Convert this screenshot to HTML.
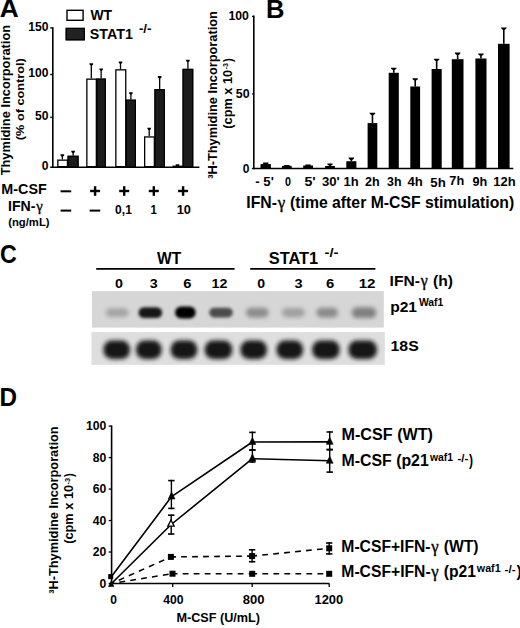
<!DOCTYPE html>
<html><head><meta charset="utf-8"><style>
html,body{margin:0;padding:0;background:#fff;}
svg{display:block;}
text{font-family:"Liberation Sans",sans-serif;font-weight:bold;}
.g{font-family:"Liberation Serif",serif;font-weight:normal;stroke:#000;stroke-width:0.35px;}
</style></head><body>
<svg width="520" height="628" viewBox="0 0 520 628">
<rect width="520" height="628" fill="#fff"/>
<text x="-0.35" y="17.4" font-size="26" textLength="18.94" lengthAdjust="spacingAndGlyphs" fill="#000">A</text>
<text x="266.09" y="17.9" font-size="26" textLength="18.47" lengthAdjust="spacingAndGlyphs" fill="#000">B</text>
<text x="-0.05" y="262.5" font-size="26" textLength="16.79" lengthAdjust="spacingAndGlyphs" fill="#000">C</text>
<text x="-0.43" y="405.6" font-size="26" textLength="17.55" lengthAdjust="spacingAndGlyphs" fill="#000">D</text>
<line x1="62.35" y1="159.5" x2="62.35" y2="155.3" stroke="#000" stroke-width="1.3" />
<polygon points="60.45,154.3 64.25,154.3 64.05,155.4 63.2,156.6 61.5,156.6 60.65,155.4" fill="#000"/>
<line x1="73.1" y1="155.7" x2="73.1" y2="151.8" stroke="#000" stroke-width="1.3" />
<polygon points="71.2,150.8 75,150.8 74.8,151.9 73.95,153.1 72.25,153.1 71.4,151.9" fill="#000"/>
<line x1="91.3" y1="78.5" x2="91.3" y2="64.3" stroke="#000" stroke-width="1.3" />
<polygon points="89.4,63.3 93.2,63.3 93,64.4 92.15,65.6 90.45,65.6 89.6,64.4" fill="#000"/>
<line x1="101.15" y1="78.5" x2="101.15" y2="69.5" stroke="#000" stroke-width="1.3" />
<polygon points="99.25,68.5 103.05,68.5 102.85,69.6 102,70.8 100.3,70.8 99.45,69.6" fill="#000"/>
<line x1="120.5" y1="69.2" x2="120.5" y2="62.5" stroke="#000" stroke-width="1.3" />
<polygon points="118.6,61.5 122.4,61.5 122.2,62.6 121.35,63.8 119.65,63.8 118.8,62.6" fill="#000"/>
<line x1="130.9" y1="99.6" x2="130.9" y2="93.2" stroke="#000" stroke-width="1.3" />
<polygon points="129,92.2 132.8,92.2 132.6,93.3 131.75,94.5 130.05,94.5 129.2,93.3" fill="#000"/>
<line x1="149.2" y1="136.3" x2="149.2" y2="128.8" stroke="#000" stroke-width="1.3" />
<polygon points="147.3,127.8 151.1,127.8 150.9,128.9 150.05,130.1 148.35,130.1 147.5,128.9" fill="#000"/>
<line x1="159.65" y1="89.1" x2="159.65" y2="77.1" stroke="#000" stroke-width="1.3" />
<polygon points="157.75,76.1 161.55,76.1 161.35,77.2 160.5,78.4 158.8,78.4 157.95,77.2" fill="#000"/>
<line x1="177.5" y1="165.6" x2="177.5" y2="165.3" stroke="#000" stroke-width="1.3" />
<polygon points="175.6,164.3 179.4,164.3 179.2,165.4 178.35,166.6 176.65,166.6 175.8,165.4" fill="#000"/>
<line x1="187.9" y1="68.8" x2="187.9" y2="60.8" stroke="#000" stroke-width="1.3" />
<polygon points="186,59.8 189.8,59.8 189.6,60.9 188.75,62.1 187.05,62.1 186.2,60.9" fill="#000"/>
<rect x="57.85" y="160.15" width="9.6" height="6.5" fill="#fff" stroke="#000" stroke-width="1.3"/>
<rect x="67.5" y="155.7" width="11.2" height="11.6" fill="#1c1c1c"/>
<rect x="68.1" y="156.3" width="10" height="11" fill="none" stroke="#000" stroke-width="1.2"/>
<rect x="86.85" y="79.15" width="9.5" height="87.5" fill="#fff" stroke="#000" stroke-width="1.3"/>
<rect x="96.4" y="78.5" width="9.5" height="88.8" fill="#1c1c1c"/>
<rect x="97" y="79.1" width="8.3" height="88.2" fill="none" stroke="#000" stroke-width="1.2"/>
<rect x="115.85" y="69.85" width="9.9" height="96.8" fill="#fff" stroke="#000" stroke-width="1.3"/>
<rect x="125.8" y="99.6" width="10.2" height="67.7" fill="#1c1c1c"/>
<rect x="126.4" y="100.2" width="9" height="67.1" fill="none" stroke="#000" stroke-width="1.2"/>
<rect x="144.65" y="136.95" width="9.7" height="29.7" fill="#fff" stroke="#000" stroke-width="1.3"/>
<rect x="154.4" y="89.1" width="10.5" height="78.2" fill="#1c1c1c"/>
<rect x="155" y="89.7" width="9.3" height="77.6" fill="none" stroke="#000" stroke-width="1.2"/>
<rect x="173.15" y="166.25" width="9.3" height="0.4" fill="#fff" stroke="#000" stroke-width="1.3"/>
<rect x="182.5" y="68.8" width="10.8" height="98.5" fill="#1c1c1c"/>
<rect x="183.1" y="69.4" width="9.6" height="97.9" fill="none" stroke="#000" stroke-width="1.2"/>
<line x1="52.8" y1="27.2" x2="52.8" y2="168" stroke="#000" stroke-width="1.6" />
<line x1="50.2" y1="27.9" x2="52.8" y2="27.9" stroke="#000" stroke-width="1.3" />
<line x1="50.2" y1="74.5" x2="52.8" y2="74.5" stroke="#000" stroke-width="1.3" />
<line x1="50.2" y1="117.3" x2="52.8" y2="117.3" stroke="#000" stroke-width="1.3" />
<line x1="50.2" y1="167.3" x2="199.4" y2="167.3" stroke="#000" stroke-width="1.6" />
<text x="28.15" y="30.7" font-size="11.9" textLength="20.25" lengthAdjust="spacingAndGlyphs" fill="#000">150</text>
<text x="28.15" y="76.7" font-size="11.9" textLength="20.25" lengthAdjust="spacingAndGlyphs" fill="#000">100</text>
<text x="34.9" y="120" font-size="11.9" textLength="13.5" lengthAdjust="spacingAndGlyphs" fill="#000">50</text>
<text x="41.65" y="169.8" font-size="11.9" textLength="6.75" lengthAdjust="spacingAndGlyphs" fill="#000">0</text>
<rect x="67" y="10.3" width="16.1" height="10" fill="#fff" stroke="#000" stroke-width="1.4"/>
<rect x="65.6" y="27.8" width="19.3" height="12.6" fill="#222"/>
<rect x="66.2" y="28.4" width="18.1" height="11.4" fill="none" stroke="#000" stroke-width="1.2"/>
<text x="90.39" y="19.6" font-size="15" textLength="21.66" lengthAdjust="spacingAndGlyphs" fill="#000">WT</text>
<text x="89.71" y="39.3" font-size="14.6" textLength="43.17" lengthAdjust="spacingAndGlyphs" fill="#000">STAT1</text>
<text x="138.91" y="33" font-size="12" textLength="12.47" lengthAdjust="spacingAndGlyphs" fill="#000" font-weight="normal">-/-</text>
<text transform="translate(10.1,175.34) rotate(-90)" x="0" y="0" font-size="12.6" textLength="150.44" lengthAdjust="spacingAndGlyphs">Thymidine Incorporation</text>
<text transform="translate(24.1,140.13) rotate(-90)" x="0" y="0" font-size="11.6" textLength="81.76" lengthAdjust="spacingAndGlyphs">(% of control)</text>
<text x="1.34" y="194.2" font-size="14.5" textLength="45.38" lengthAdjust="spacingAndGlyphs" fill="#000">M-CSF</text>
<text x="8.06" y="210.7" font-size="13.8" textLength="27.45" lengthAdjust="spacingAndGlyphs" fill="#000" xml:space="preserve">IFN-</text>
<text x="36.2" y="210.7" font-size="14.63" class="g">γ</text>
<text x="8.19" y="225.8" font-size="10.8" textLength="41.37" lengthAdjust="spacingAndGlyphs" fill="#000">(ng/mL)</text>
<rect x="60.6" y="190.3" width="10.6" height="2" fill="#000"/>
<rect x="90.1" y="189.8" width="10" height="2.4" fill="#000"/>
<rect x="93.9" y="186.2" width="2.4" height="9.6" fill="#000"/>
<rect x="119.2" y="189.8" width="10" height="2.4" fill="#000"/>
<rect x="123" y="186.2" width="2.4" height="9.6" fill="#000"/>
<rect x="148.8" y="189.8" width="10" height="2.4" fill="#000"/>
<rect x="152.6" y="186.2" width="2.4" height="9.6" fill="#000"/>
<rect x="178.1" y="189.8" width="10" height="2.4" fill="#000"/>
<rect x="181.9" y="186.2" width="2.4" height="9.6" fill="#000"/>
<rect x="60.6" y="209.6" width="10.6" height="2" fill="#000"/>
<rect x="89.6" y="209.6" width="10.6" height="2" fill="#000"/>
<text x="115.12" y="214.2" font-size="12.6" textLength="16.71" lengthAdjust="spacingAndGlyphs" fill="#000">0,1</text>
<text x="150.48" y="214.2" font-size="12.6" textLength="6.33" lengthAdjust="spacingAndGlyphs" fill="#000">1</text>
<text x="176.69" y="214.2" font-size="12.6" textLength="14.23" lengthAdjust="spacingAndGlyphs" fill="#000">10</text>
<line x1="253.8" y1="15.6" x2="253.8" y2="169.2" stroke="#000" stroke-width="1.6" />
<line x1="252" y1="16.3" x2="253.8" y2="16.3" stroke="#000" stroke-width="1.3" />
<line x1="252" y1="93.8" x2="253.8" y2="93.8" stroke="#000" stroke-width="1.3" />
<line x1="251.9" y1="168.5" x2="513.3" y2="168.5" stroke="#000" stroke-width="1.6" />
<text x="228.42" y="19.6" font-size="12.3" textLength="20.58" lengthAdjust="spacingAndGlyphs" fill="#000">100</text>
<text x="235.82" y="98.1" font-size="12.3" textLength="13.9" lengthAdjust="spacingAndGlyphs" fill="#000">50</text>
<text x="242.63" y="173.1" font-size="12.3" textLength="6.67" lengthAdjust="spacingAndGlyphs" fill="#000">0</text>
<line x1="265.7" y1="164.1" x2="265.7" y2="163.6" stroke="#000" stroke-width="1.6" />
<polygon points="262.9,162.6 268.5,162.6 268.3,163.7 266.7,164.9 264.7,164.9 263.1,163.7" fill="#000"/>
<rect x="260.5" y="164.1" width="10.4" height="4.4" fill="#000"/>
<line x1="286.85" y1="165.9" x2="286.85" y2="166" stroke="#000" stroke-width="1.6" />
<polygon points="284.05,165 289.65,165 289.45,166.1 287.85,167.3 285.85,167.3 284.25,166.1" fill="#000"/>
<rect x="282" y="165.9" width="9.7" height="2.6" fill="#000"/>
<line x1="308.1" y1="165.5" x2="308.1" y2="165.6" stroke="#000" stroke-width="1.6" />
<polygon points="305.3,164.6 310.9,164.6 310.7,165.7 309.1,166.9 307.1,166.9 305.5,165.7" fill="#000"/>
<rect x="303.2" y="165.5" width="9.8" height="3" fill="#000"/>
<line x1="330" y1="166" x2="330" y2="164.5" stroke="#000" stroke-width="1.6" />
<polygon points="327.2,163.5 332.8,163.5 332.6,164.6 331,165.8 329,165.8 327.4,164.6" fill="#000"/>
<rect x="325.1" y="166" width="9.8" height="2.5" fill="#000"/>
<line x1="351.35" y1="161.2" x2="351.35" y2="158.6" stroke="#000" stroke-width="1.6" />
<polygon points="348.55,157.6 354.15,157.6 353.95,158.7 352.35,159.9 350.35,159.9 348.75,158.7" fill="#000"/>
<rect x="346.3" y="161.2" width="10.1" height="7.3" fill="#000"/>
<line x1="372.45" y1="123.1" x2="372.45" y2="113.8" stroke="#000" stroke-width="1.6" />
<polygon points="369.65,112.8 375.25,112.8 375.05,113.9 373.45,115.1 371.45,115.1 369.85,113.9" fill="#000"/>
<rect x="367.6" y="123.1" width="9.7" height="45.4" fill="#000"/>
<line x1="393.75" y1="72.8" x2="393.75" y2="68.7" stroke="#000" stroke-width="1.6" />
<polygon points="390.95,67.7 396.55,67.7 396.35,68.8 394.75,70 392.75,70 391.15,68.8" fill="#000"/>
<rect x="388.7" y="72.8" width="10.1" height="95.7" fill="#000"/>
<line x1="415.2" y1="86.5" x2="415.2" y2="79.2" stroke="#000" stroke-width="1.6" />
<polygon points="412.4,78.2 418,78.2 417.8,79.3 416.2,80.5 414.2,80.5 412.6,79.3" fill="#000"/>
<rect x="410.3" y="86.5" width="9.8" height="82" fill="#000"/>
<line x1="436.65" y1="69" x2="436.65" y2="59.7" stroke="#000" stroke-width="1.6" />
<polygon points="433.85,58.7 439.45,58.7 439.25,59.8 437.65,61 435.65,61 434.05,59.8" fill="#000"/>
<rect x="431.6" y="69" width="10.1" height="99.5" fill="#000"/>
<line x1="457.65" y1="59.2" x2="457.65" y2="53.6" stroke="#000" stroke-width="1.6" />
<polygon points="454.85,52.6 460.45,52.6 460.25,53.7 458.65,54.9 456.65,54.9 455.05,53.7" fill="#000"/>
<rect x="451.8" y="59.2" width="11.7" height="109.3" fill="#000"/>
<line x1="480.95" y1="58.5" x2="480.95" y2="54.5" stroke="#000" stroke-width="1.6" />
<polygon points="478.15,53.5 483.75,53.5 483.55,54.6 481.95,55.8 479.95,55.8 478.35,54.6" fill="#000"/>
<rect x="475.4" y="58.5" width="11.1" height="110" fill="#000"/>
<line x1="503.8" y1="43.8" x2="503.8" y2="28.4" stroke="#000" stroke-width="1.6" />
<polygon points="501,27.4 506.6,27.4 506.4,28.5 504.8,29.7 502.8,29.7 501.2,28.5" fill="#000"/>
<rect x="498" y="43.8" width="11.6" height="124.7" fill="#000"/>
<text x="255.29" y="186.2" font-size="12" textLength="18.5" lengthAdjust="spacingAndGlyphs" fill="#000">- 5'</text>
<text x="284.88" y="186" font-size="12" textLength="5.96" lengthAdjust="spacingAndGlyphs" fill="#000">0</text>
<text x="304.46" y="186" font-size="12" textLength="11.27" lengthAdjust="spacingAndGlyphs" fill="#000">5'</text>
<text x="321.9" y="185.6" font-size="12" textLength="17.78" lengthAdjust="spacingAndGlyphs" fill="#000">30'</text>
<text x="343.48" y="185.6" font-size="12" textLength="15.12" lengthAdjust="spacingAndGlyphs" fill="#000">1h</text>
<text x="364.97" y="185.6" font-size="12" textLength="14.61" lengthAdjust="spacingAndGlyphs" fill="#000">2h</text>
<text x="387.12" y="185.6" font-size="12" textLength="14.45" lengthAdjust="spacingAndGlyphs" fill="#000">3h</text>
<text x="407.5" y="185.6" font-size="12" textLength="15.31" lengthAdjust="spacingAndGlyphs" fill="#000">4h</text>
<text x="430.39" y="186.7" font-size="12" textLength="15.43" lengthAdjust="spacingAndGlyphs" fill="#000">5h</text>
<text x="449.35" y="185.3" font-size="12" textLength="14.83" lengthAdjust="spacingAndGlyphs" fill="#000">7h</text>
<text x="472.46" y="185.5" font-size="12" textLength="14.72" lengthAdjust="spacingAndGlyphs" fill="#000">9h</text>
<text x="493.28" y="185.5" font-size="12" textLength="22.32" lengthAdjust="spacingAndGlyphs" fill="#000">12h</text>
<text x="246.35" y="208" font-size="15.9" textLength="30.62" lengthAdjust="spacingAndGlyphs" fill="#000" xml:space="preserve">IFN-</text>
<text x="277.63" y="208" font-size="16.85" class="g">γ</text>
<text x="285.73" y="208" font-size="15.9" textLength="228.45" lengthAdjust="spacingAndGlyphs" fill="#000" xml:space="preserve"> (time after M-CSF stimulation)</text>
<text transform="translate(217.2,178.87) rotate(-90)" x="0" y="0" font-size="12.6" textLength="167.77" lengthAdjust="spacingAndGlyphs">³H-Thymidine Incorporation</text>
<text transform="translate(231.9,128.63) rotate(-90)" x="0" y="0" font-size="12.4" textLength="58.76" lengthAdjust="spacingAndGlyphs">(cpm x 10</text>
<text transform="translate(228.2,69.37) rotate(-90)" x="0" y="0" font-size="8" textLength="6.23" lengthAdjust="spacingAndGlyphs">-3</text>
<text transform="translate(231.9,62.11) rotate(-90)" x="0" y="0" font-size="12.4" textLength="3.78" lengthAdjust="spacingAndGlyphs">)</text>
<text x="156.98" y="263.9" font-size="16.4" textLength="24.18" lengthAdjust="spacingAndGlyphs" fill="#000">WT</text>
<line x1="96.2" y1="268.9" x2="234.6" y2="268.9" stroke="#000" stroke-width="1.7" />
<text x="268.75" y="263.5" font-size="16" textLength="49.49" lengthAdjust="spacingAndGlyphs" fill="#000">STAT1</text>
<text x="324.44" y="257" font-size="13" textLength="14.02" lengthAdjust="spacingAndGlyphs" fill="#000" font-weight="normal">-/-</text>
<line x1="250.2" y1="268.9" x2="375.4" y2="268.9" stroke="#000" stroke-width="1.7" />
<text x="114.93" y="287.5" font-size="12.6" textLength="7.95" lengthAdjust="spacingAndGlyphs" fill="#000">0</text>
<text x="149.67" y="287.5" font-size="12.6" textLength="7.94" lengthAdjust="spacingAndGlyphs" fill="#000">3</text>
<text x="183.26" y="287.5" font-size="12.6" textLength="8.17" lengthAdjust="spacingAndGlyphs" fill="#000">6</text>
<text x="211.6" y="287.5" font-size="12.6" textLength="15.87" lengthAdjust="spacingAndGlyphs" fill="#000">12</text>
<text x="257.34" y="287.5" font-size="12.6" textLength="7.84" lengthAdjust="spacingAndGlyphs" fill="#000">0</text>
<text x="294.47" y="287.5" font-size="12.6" textLength="8.06" lengthAdjust="spacingAndGlyphs" fill="#000">3</text>
<text x="325.95" y="287.5" font-size="12.6" textLength="8.28" lengthAdjust="spacingAndGlyphs" fill="#000">6</text>
<text x="358.65" y="287.5" font-size="12.6" textLength="16.86" lengthAdjust="spacingAndGlyphs" fill="#000">12</text>
<text x="389.56" y="285.8" font-size="14.8" textLength="30.36" lengthAdjust="spacingAndGlyphs" fill="#000" xml:space="preserve">IFN-</text>
<text x="420.79" y="285.8" font-size="15.69" class="g">γ</text>
<text x="428.6" y="285.8" font-size="14.8" textLength="24.28" lengthAdjust="spacingAndGlyphs" fill="#000" xml:space="preserve"> (h)</text>
<text x="390.17" y="311.6" font-size="14.5" textLength="26.86" lengthAdjust="spacingAndGlyphs" fill="#000">p21</text>
<text x="418.89" y="306.4" font-size="10.9" textLength="24.5" lengthAdjust="spacingAndGlyphs" fill="#000">Waf1</text>
<text x="390.5" y="350.8" font-size="15.2" textLength="28.22" lengthAdjust="spacingAndGlyphs" fill="#000">18S</text>
<defs><filter id="bl" x="-50%" y="-50%" width="200%" height="200%"><feGaussianBlur stdDeviation="1.9"/></filter><filter id="bl2" x="-50%" y="-50%" width="200%" height="200%"><feGaussianBlur stdDeviation="1.5"/></filter><filter id="bl3"><feGaussianBlur stdDeviation="0.6"/></filter></defs>
<rect x="92" y="291.1" width="291.8" height="36.5" fill="#d6d6d6"/>
<rect x="91.5" y="332.1" width="293.3" height="32.7" fill="#dedede"/>
<rect x="105.9" y="308.2" width="22.6" height="8.8" rx="4.4" fill="#a4a4a4" filter="url(#bl)"/>
<rect x="138.5" y="307.2" width="23.6" height="10.8" rx="5.4" fill="#141414" filter="url(#bl2)"/>
<rect x="175.1" y="306.6" width="20.6" height="12" rx="6" fill="#000" filter="url(#bl2)"/>
<rect x="209.2" y="307.8" width="23.6" height="9.6" rx="4.8" fill="#4c4c4c" filter="url(#bl2)"/>
<rect x="246" y="307.8" width="22.6" height="9.6" rx="4.8" fill="#8c8c8c" filter="url(#bl)"/>
<rect x="282.1" y="308" width="22.6" height="9.2" rx="4.6" fill="#a0a0a0" filter="url(#bl)"/>
<rect x="316.4" y="307.8" width="21.6" height="9.6" rx="4.8" fill="#8a8a8a" filter="url(#bl)"/>
<rect x="351.7" y="307.2" width="24.6" height="10.8" rx="5.4" fill="#808080" filter="url(#bl)"/>
<g filter="url(#bl)">
<rect x="103.5" y="340.4" width="26.4" height="18.6" rx="8.5" fill="#141414"/>
<rect x="136.1" y="340.4" width="25.4" height="18.6" rx="8.5" fill="#141414"/>
<rect x="170.8" y="340.4" width="26.4" height="18.6" rx="8.5" fill="#141414"/>
<rect x="204.8" y="340.4" width="27.4" height="18.6" rx="8.5" fill="#141414"/>
<rect x="240.5" y="340.4" width="26.4" height="18.6" rx="8.5" fill="#141414"/>
<rect x="276.6" y="340.4" width="26.4" height="18.6" rx="8.5" fill="#141414"/>
<rect x="312.2" y="340.4" width="27.4" height="18.6" rx="8.5" fill="#141414"/>
<rect x="348.5" y="340.4" width="28.4" height="18.6" rx="8.5" fill="#141414"/>
</g>
<line x1="111.6" y1="425.4" x2="111.6" y2="584.2" stroke="#000" stroke-width="1.6" />
<line x1="108.7" y1="426.1" x2="111.6" y2="426.1" stroke="#000" stroke-width="1.3" />
<line x1="108.7" y1="457.58" x2="111.6" y2="457.58" stroke="#000" stroke-width="1.3" />
<line x1="108.7" y1="489.06" x2="111.6" y2="489.06" stroke="#000" stroke-width="1.3" />
<line x1="108.7" y1="520.54" x2="111.6" y2="520.54" stroke="#000" stroke-width="1.3" />
<line x1="108.7" y1="552.02" x2="111.6" y2="552.02" stroke="#000" stroke-width="1.3" />
<line x1="108.7" y1="583.5" x2="329.4" y2="583.5" stroke="#000" stroke-width="1.6" />
<line x1="172.7" y1="583.5" x2="172.7" y2="586.9" stroke="#000" stroke-width="1.3" />
<line x1="252.2" y1="583.5" x2="252.2" y2="586.9" stroke="#000" stroke-width="1.3" />
<line x1="329.2" y1="583.5" x2="329.2" y2="586.9" stroke="#000" stroke-width="1.3" />
<text x="85.95" y="430.3" font-size="12.2" textLength="20.36" lengthAdjust="spacingAndGlyphs" fill="#000">100</text>
<text x="92.73" y="461.78" font-size="12.2" textLength="13.57" lengthAdjust="spacingAndGlyphs" fill="#000">80</text>
<text x="92.73" y="493.26" font-size="12.2" textLength="13.57" lengthAdjust="spacingAndGlyphs" fill="#000">60</text>
<text x="92.73" y="524.74" font-size="12.2" textLength="13.57" lengthAdjust="spacingAndGlyphs" fill="#000">40</text>
<text x="92.73" y="556.22" font-size="12.2" textLength="13.57" lengthAdjust="spacingAndGlyphs" fill="#000">20</text>
<text x="99.52" y="587.7" font-size="12.2" textLength="6.79" lengthAdjust="spacingAndGlyphs" fill="#000">0</text>
<text x="110.13" y="604" font-size="12" textLength="6.67" lengthAdjust="spacingAndGlyphs" fill="#000">0</text>
<text x="163.32" y="604" font-size="12" textLength="20.28" lengthAdjust="spacingAndGlyphs" fill="#000">400</text>
<text x="242.89" y="604" font-size="12" textLength="21.75" lengthAdjust="spacingAndGlyphs" fill="#000">800</text>
<text x="314.49" y="604" font-size="12" textLength="28.74" lengthAdjust="spacingAndGlyphs" fill="#000">1200</text>
<text x="176.45" y="622" font-size="13.4" textLength="83.58" lengthAdjust="spacingAndGlyphs" fill="#000">M-CSF (U/mL)</text>
<text transform="translate(57.8,593.67) rotate(-90)" x="0" y="0" font-size="12.6" textLength="167.27" lengthAdjust="spacingAndGlyphs">³H-Thymidine Incorporation</text>
<text transform="translate(72.5,543.84) rotate(-90)" x="0" y="0" font-size="12.4" textLength="58.96" lengthAdjust="spacingAndGlyphs">(cpm x 10</text>
<text transform="translate(70,484.39) rotate(-90)" x="0" y="0" font-size="8" textLength="6.55" lengthAdjust="spacingAndGlyphs">-3</text>
<text transform="translate(72.5,477.11) rotate(-90)" x="0" y="0" font-size="12.4" textLength="3.78" lengthAdjust="spacingAndGlyphs">)</text>
<polyline points="111.5,576.6 171.6,496.6 252.4,442 329.7,441.9" fill="none" stroke="#000" stroke-width="1.6" stroke-linejoin="round"/>
<polyline points="111.5,583.5 171.2,524.5 252.4,458.7 329.7,460.8" fill="none" stroke="#000" stroke-width="1.6" stroke-linejoin="round"/>
<line x1="111.5" y1="583.5" x2="170.9" y2="556.9" stroke="#000" stroke-width="1.6" stroke-dasharray="5.8,5.2" stroke-dashoffset="3"/>
<line x1="170.9" y1="556.9" x2="252.1" y2="556.1" stroke="#000" stroke-width="1.6" stroke-dasharray="5.8,5.2" stroke-dashoffset="0.8"/>
<line x1="252.1" y1="556.1" x2="329.2" y2="548.3" stroke="#000" stroke-width="1.6" stroke-dasharray="5.8,5.2" stroke-dashoffset="0.8"/>
<line x1="111.5" y1="583.5" x2="172.5" y2="573.7" stroke="#000" stroke-width="1.6" stroke-dasharray="5.8,5.2" stroke-dashoffset="3"/>
<line x1="172.5" y1="573.7" x2="252.2" y2="573.8" stroke="#000" stroke-width="1.6" stroke-dasharray="5.8,5.2" stroke-dashoffset="0.8"/>
<line x1="252.2" y1="573.8" x2="329.2" y2="573.8" stroke="#000" stroke-width="1.6" stroke-dasharray="5.8,5.2" stroke-dashoffset="0.8"/>
<line x1="171.4" y1="479.8" x2="171.4" y2="509.2" stroke="#000" stroke-width="1.4" />
<line x1="168.2" y1="480.6" x2="174.6" y2="480.6" stroke="#000" stroke-width="1.6" />
<line x1="168.2" y1="508.4" x2="174.6" y2="508.4" stroke="#000" stroke-width="1.6" />
<line x1="171.2" y1="514.4" x2="171.2" y2="534.8" stroke="#000" stroke-width="1.4" />
<line x1="168" y1="515.2" x2="174.4" y2="515.2" stroke="#000" stroke-width="1.6" />
<line x1="168" y1="534" x2="174.4" y2="534" stroke="#000" stroke-width="1.6" />
<line x1="252.4" y1="431.6" x2="252.4" y2="450.8" stroke="#000" stroke-width="1.4" />
<line x1="249.2" y1="432.4" x2="255.6" y2="432.4" stroke="#000" stroke-width="1.6" />
<line x1="249.2" y1="450" x2="255.6" y2="450" stroke="#000" stroke-width="1.6" />
<line x1="252.4" y1="449.2" x2="252.4" y2="462.8" stroke="#000" stroke-width="1.4" />
<line x1="249.2" y1="450" x2="255.6" y2="450" stroke="#000" stroke-width="1.6" />
<line x1="249.2" y1="462" x2="255.6" y2="462" stroke="#000" stroke-width="1.6" />
<line x1="329.7" y1="431.2" x2="329.7" y2="450.6" stroke="#000" stroke-width="1.4" />
<line x1="326.5" y1="432" x2="332.9" y2="432" stroke="#000" stroke-width="1.6" />
<line x1="326.5" y1="449.8" x2="332.9" y2="449.8" stroke="#000" stroke-width="1.6" />
<line x1="329.7" y1="448.6" x2="329.7" y2="472.9" stroke="#000" stroke-width="1.4" />
<line x1="326.5" y1="449.4" x2="332.9" y2="449.4" stroke="#000" stroke-width="1.6" />
<line x1="326.5" y1="472.1" x2="332.9" y2="472.1" stroke="#000" stroke-width="1.6" />
<line x1="252.1" y1="549" x2="252.1" y2="562.5" stroke="#000" stroke-width="1.4" />
<line x1="248.9" y1="549.8" x2="255.3" y2="549.8" stroke="#000" stroke-width="1.6" />
<line x1="248.9" y1="561.7" x2="255.3" y2="561.7" stroke="#000" stroke-width="1.6" />
<line x1="329.2" y1="542.2" x2="329.2" y2="554.7" stroke="#000" stroke-width="1.4" />
<line x1="326" y1="543" x2="332.4" y2="543" stroke="#000" stroke-width="1.6" />
<line x1="326" y1="553.9" x2="332.4" y2="553.9" stroke="#000" stroke-width="1.6" />
<polygon points="171.6,492 175,499 168.2,499" fill="#000" stroke="#000" stroke-width="0.6"/>
<polygon points="252.4,437.4 255.8,444.4 249,444.4" fill="#000" stroke="#000" stroke-width="0.6"/>
<polygon points="329.7,437.3 333.1,444.3 326.3,444.3" fill="#000" stroke="#000" stroke-width="0.6"/>
<polygon points="171,520 174.2,526.2 167.8,526.2" fill="#fff" stroke="#000" stroke-width="1.3" stroke-linejoin="miter"/>
<polygon points="252.4,454.1 255.8,461.1 249,461.1" fill="#000" stroke="#000" stroke-width="0.6"/>
<polygon points="329.7,456.2 333.1,463.2 326.3,463.2" fill="#000" stroke="#000" stroke-width="0.6"/>
<polygon points="111.2,581 113.9,586.6 108.5,586.6" fill="#000" stroke="#000" stroke-width="0.6"/>
<rect x="167.9" y="553.9" width="6" height="6" fill="#000"/>
<rect x="249.1" y="553.1" width="6" height="6" fill="#000"/>
<rect x="326.2" y="545.3" width="6" height="6" fill="#000"/>
<rect x="169.5" y="570.7" width="6" height="6" fill="#000"/>
<rect x="249.2" y="570.8" width="6" height="6" fill="#000"/>
<rect x="326.2" y="570.8" width="6" height="6" fill="#000"/>
<rect x="108.2" y="574.1" width="5" height="5" fill="#000"/>
<text x="341.52" y="439.9" font-size="16" textLength="91.48" lengthAdjust="spacingAndGlyphs" fill="#000">M-CSF (WT)</text>
<text x="341.54" y="466.2" font-size="16" textLength="87.2" lengthAdjust="spacingAndGlyphs" fill="#000">M-CSF (p21</text>
<text x="429.93" y="461.3" font-size="10.8" textLength="23.06" lengthAdjust="spacingAndGlyphs" fill="#000">waf1</text>
<text x="457.49" y="461.6" font-size="10.8" textLength="10.93" lengthAdjust="spacingAndGlyphs" fill="#000" font-weight="normal">-/-</text>
<text x="468.89" y="466.2" font-size="16" textLength="4.01" lengthAdjust="spacingAndGlyphs" fill="#000">)</text>
<text x="341.35" y="552" font-size="15.8" textLength="89.25" lengthAdjust="spacingAndGlyphs" fill="#000" xml:space="preserve">M-CSF+IFN-</text>
<text x="431.26" y="552" font-size="16.75" class="g">γ</text>
<text x="439.32" y="552" font-size="15.8" textLength="39.16" lengthAdjust="spacingAndGlyphs" fill="#000" xml:space="preserve"> (WT)</text>
<text x="341.35" y="576.8" font-size="15.8" textLength="89.27" lengthAdjust="spacingAndGlyphs" fill="#000" xml:space="preserve">M-CSF+IFN-</text>
<text x="431.28" y="576.8" font-size="16.75" class="g">γ</text>
<text x="439.34" y="576.8" font-size="15.8" textLength="36.59" lengthAdjust="spacingAndGlyphs" fill="#000" xml:space="preserve"> (p21</text>
<text x="476.83" y="572.4" font-size="11" textLength="23.77" lengthAdjust="spacingAndGlyphs" fill="#000">waf1</text>
<text x="504.58" y="573" font-size="10.5" textLength="11.15" lengthAdjust="spacingAndGlyphs" fill="#000" font-weight="normal">-/-</text>
<text x="516.38" y="576.8" font-size="15.8" textLength="5.26" lengthAdjust="spacingAndGlyphs" fill="#000">)</text>
</svg>
</body></html>
